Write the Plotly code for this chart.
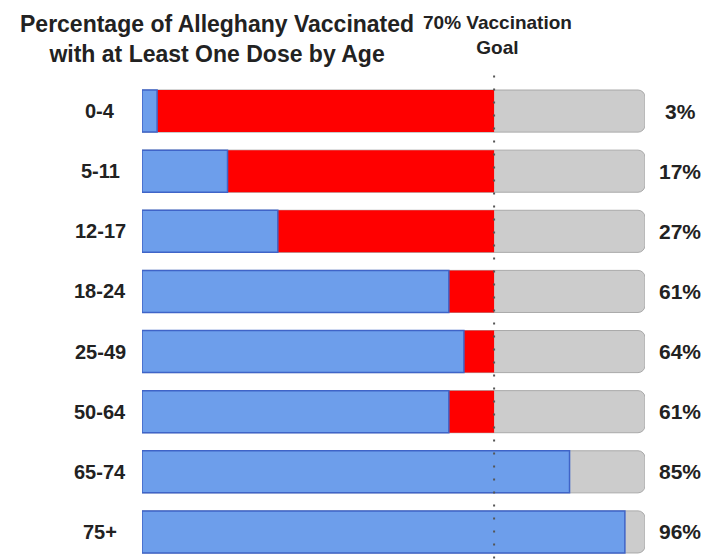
import plotly.graph_objects as go

age_groups = ["0-4", "5-11", "12-17", "18-24", "25-49", "50-64", "65-74", "75+"]
pct_vaccinated = [3, 17, 27, 61, 64, 61, 85, 96]
goal_pct = 70
full_pct = 100

title_text = "Percentage of Alleghany Vaccinated<br>with at Least One Dose by Age"
goal_text = "70% Vaccination<br>Goal"

BLUE = "#6d9eeb"
BLUE_LINE = "#3f64c8"
RED = "#ff0000"
GRAY = "#cccccc"
GRAY_LINE = "#a9a9a9"
FONT = "Liberation Sans, Arial, sans-serif"

W, H = 725, 560
ML, MR, MT, MB = 134, 88, 73, 6
plot_h = H - MT - MB

red_x = [goal_pct if v < goal_pct else None for v in pct_vaccinated]

fig = go.Figure()
fig.add_trace(go.Bar(
    y=age_groups, x=[full_pct] * len(age_groups), orientation="h",
    marker=dict(color=GRAY, line=dict(color=GRAY_LINE, width=1), cornerradius=7),
    hoverinfo="skip", showlegend=False,
))
fig.add_trace(go.Bar(
    y=age_groups, x=red_x, orientation="h",
    marker=dict(color=RED, line=dict(color=RED, width=0), cornerradius=7),
    hoverinfo="skip", showlegend=False,
))
fig.add_trace(go.Bar(
    y=age_groups, x=pct_vaccinated, orientation="h",
    marker=dict(color=BLUE, line=dict(color=BLUE_LINE, width=1.5), cornerradius=7),
    hoverinfo="skip", showlegend=False,
))

fig.add_shape(
    type="line", xref="x", yref="paper",
    x0=goal_pct, x1=goal_pct, y0=-0.02, y1=1.025,
    line=dict(color="#555555", width=2, dash="2px,11px"),
    layer="above",
)

annotations = []
for g, v in zip(age_groups, pct_vaccinated):
    annotations.append(dict(
        x=0, xref="paper", y=g, yref="y", xanchor="center", xshift=-42,
        text=g, showarrow=False,
        font=dict(family=FONT, size=20, color="#222222", weight="bold"),
    ))
    annotations.append(dict(
        x=1, xref="paper", y=g, yref="y", xanchor="center", xshift=35,
        text=f"{v}%", showarrow=False,
        font=dict(family=FONT, size=21, color="#222222", weight="bold"),
    ))

annotations.append(dict(
    x=0, xref="paper", xanchor="center", xshift=209 - ML,
    y=1 + (MT - 1) / plot_h, yref="paper", yanchor="top",
    text=title_text, showarrow=False,
    font=dict(family=FONT, size=23, color="#222222", weight="bold"),
    align="center",
))
annotations.append(dict(
    x=goal_pct, xref="x", xanchor="center", xshift=3,
    y=1 + (MT - 2) / plot_h, yref="paper", yanchor="top",
    text=goal_text, showarrow=False,
    font=dict(family=FONT, size=19, color="#222222", weight="bold"),
    align="center",
))

fig.update_layout(
    width=W, height=H,
    margin=dict(l=ML, r=MR, t=MT, b=MB),
    barmode="overlay", bargap=0.3,
    plot_bgcolor="white", paper_bgcolor="white",
    xaxis=dict(range=[0, full_pct], visible=False, fixedrange=True),
    yaxis=dict(categoryorder="array", categoryarray=age_groups,
               autorange="reversed", visible=False, fixedrange=True),
    annotations=annotations,
    font=dict(family=FONT),
)

fig.write_html("out.html")
